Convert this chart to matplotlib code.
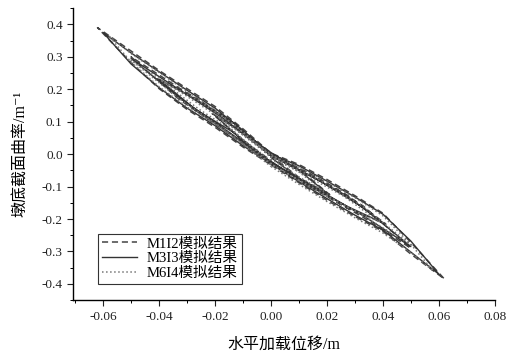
import matplotlib
matplotlib.use("Agg")
import matplotlib.pyplot as plt
from matplotlib.ticker import MultipleLocator, FormatStrFormatter

plt.rcParams["font.family"] = ["Liberation Serif", "Noto Sans CJK SC", "DejaVu Serif"]

# M1I2 simulated result (four cycles)
m1_x = [0, .0105, .021, .0105, 0, -.0105, -.021, -.0105, 0,
        0, .014, .027, .041, .027, .014, 0, -.014, -.027, -.041, -.027, -.014, 0,
        0, .017, .033, .05, .033, .017, 0, -.017, -.033, -.05, -.033, -.017, 0,
        0, .01, .02, .03, .04, .05, .062, .05, .04, .03, .02, .01, 0,
        -.01, -.02, -.03, -.04, -.05, -.062, -.05, -.04, -.03, -.02, -.01, 0]
m1_y = [-0.005, -0.075, -0.125, -0.05, 0.0, 0.07, 0.125, 0.045, -0.02,
        -0.025, -0.1, -0.165, -0.215, -0.125, -0.06, 0.0, 0.1, 0.175, 0.235, 0.135, 0.06, -0.03,
        -0.03, -0.115, -0.195, -0.29, -0.16, -0.075, 0.0, 0.115, 0.205, 0.30, 0.17, 0.075, -0.03,
        -0.033, -0.088, -0.142, -0.192, -0.238, -0.308, -0.385, -0.272, -0.182, -0.128, -0.078, -0.032, 0.003,
        0.078, 0.147, 0.202, 0.258, 0.318, 0.39, 0.282, 0.202, 0.138, 0.083, 0.022, -0.033]

# M3I3 simulated result
m3_x = [0, .01, .02, .01, 0, -.01, -.02, -.01, 0,
        0, .013, .027, .04, .027, .013, 0, -.013, -.027, -.04, -.027, -.013, 0,
        0, .017, .033, .05, .033, .017, 0, -.017, -.033, -.05, -.033, -.017, 0,
        0, .01, .02, .03, .04, .05, .06, .05, .04, .03, .02, .01, 0,
        -.01, -.02, -.03, -.04, -.05, -.06, -.05, -.04, -.03, -.02, -.01, 0]
m3_y = [-0.01, -0.075, -0.12, -0.05, 0.005, 0.065, 0.12, 0.04, -0.025,
        -0.022, -0.095, -0.16, -0.212, -0.128, -0.062, -0.005, 0.095, 0.17, 0.23, 0.138, 0.065, -0.025,
        -0.025, -0.11, -0.19, -0.285, -0.165, -0.08, -0.005, 0.11, 0.2, 0.295, 0.175, 0.08, -0.025,
        -0.03, -0.085, -0.137, -0.188, -0.234, -0.302, -0.37, -0.268, -0.185, -0.132, -0.083, -0.036, 0.0,
        0.072, 0.142, 0.197, 0.254, 0.312, 0.375, 0.278, 0.205, 0.142, 0.088, 0.026, -0.03]

# M6I4 simulated result
m6_x = [0, .01, .019, .01, 0, -.01, -.019, -.01, 0,
        0, .013, .026, .039, .026, .013, 0, -.013, -.026, -.039, -.026, -.013, 0,
        0, .017, .033, .05, .033, .017, 0, -.017, -.033, -.05, -.033, -.017, 0,
        0, .01, .02, .03, .04, .05, .058, .05, .04, .03, .02, .01, 0,
        -.01, -.02, -.03, -.04, -.05, -.058, -.05, -.04, -.03, -.02, -.01, 0]
m6_y = [-0.015, -0.07, -0.115, -0.055, 0.0, 0.06, 0.115, 0.045, -0.02,
        -0.03, -0.098, -0.158, -0.21, -0.13, -0.068, -0.01, 0.09, 0.165, 0.225, 0.14, 0.068, -0.03,
        -0.032, -0.112, -0.19, -0.28, -0.162, -0.078, -0.008, 0.105, 0.195, 0.29, 0.172, 0.078, -0.032,
        -0.038, -0.093, -0.146, -0.196, -0.243, -0.303, -0.36, -0.278, -0.19, -0.134, -0.086, -0.04, -0.004,
        0.068, 0.137, 0.193, 0.252, 0.31, 0.365, 0.284, 0.208, 0.145, 0.093, 0.03, -0.038]

labels = ["M1I2模拟结果", "M3I3模拟结果", "M6I4模拟结果"]

fig = plt.figure(figsize=(5.08, 3.56), dpi=100)
ax = fig.add_axes([0.144, 0.157, 0.83, 0.82])

ax.plot(m1_x, m1_y, ls=(0, (4, 2.5)), color="#444444", lw=1.1, label=labels[0])
ax.plot(m3_x, m3_y, ls="-", color="#333333", lw=1.0, label=labels[1])
ax.plot(m6_x, m6_y, ls=":", color="#777777", lw=1.1, label=labels[2])

ax.set_xlim(-0.0707, 0.08)
ax.set_ylim(-0.45, 0.45)
ax.xaxis.set_major_locator(MultipleLocator(0.02))
ax.xaxis.set_minor_locator(MultipleLocator(0.01))
ax.yaxis.set_major_locator(MultipleLocator(0.1))
ax.yaxis.set_minor_locator(MultipleLocator(0.05))
ax.xaxis.set_major_formatter(FormatStrFormatter("%.2f"))
ax.yaxis.set_major_formatter(FormatStrFormatter("%.1f"))
for s in ("top", "right"):
    ax.spines[s].set_visible(False)
for s in ("left", "bottom"):
    ax.spines[s].set_linewidth(1.0)
ax.tick_params(which="major", direction="out", length=4, width=0.8, labelsize=9.5, colors="#222222")
ax.tick_params(which="minor", direction="out", length=2.5, width=0.7)

ax.set_xlabel("水平加载位移/m", fontsize=11.5, labelpad=10)
ax.set_ylabel("墩底截面曲率/m⁻¹", fontsize=11.5, labelpad=9)

leg = ax.legend(loc="lower left", bbox_to_anchor=(0.059, 0.055), fontsize=10.5,
                handlelength=2.4, handletextpad=0.7, borderpad=0.25, labelspacing=0.12,
                fancybox=False, framealpha=1, edgecolor="#333333", borderaxespad=0)
leg.get_frame().set_linewidth(0.8)

fig.savefig("out.png", dpi=100)
